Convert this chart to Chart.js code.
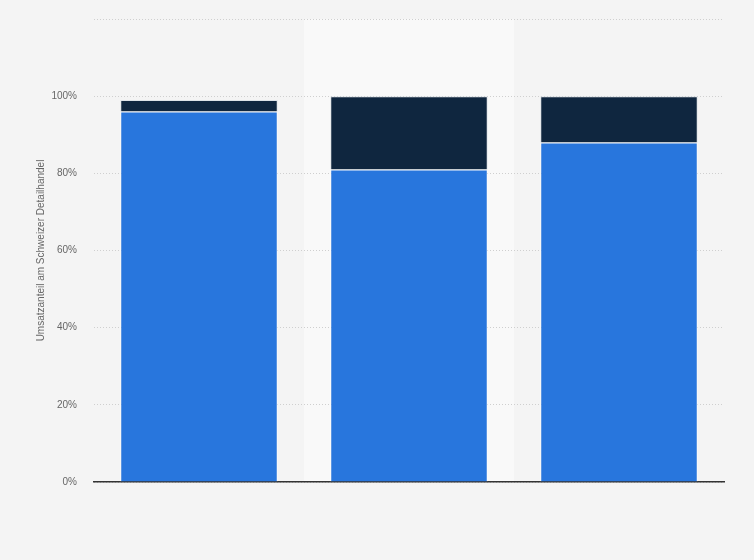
<!DOCTYPE html>
<html>
<head>
<meta charset="utf-8">
<script src="https://cdn.jsdelivr.net/npm/chart.js@4/dist/chart.umd.min.js"></script>
<style>
  html, body { margin: 0; padding: 0; background: #f4f4f4; }
  #wrap { width: 754px; height: 560px; }
</style>
</head>
<body>
<div id="wrap"><canvas id="umsatz"></canvas></div>
<script>
// Kategorien (keine Beschriftung sichtbar)
var kategorien = ['1', '2', '3'];
// Anteile in %
var serieUnten = [96, 81, 88];
var serieOben = [3, 19, 12];
var yTicks = [0, 20, 40, 60, 80, 100, 120];

// hellere Spalte hinter der mittleren Kategorie
var spalteHinterlegen = {
  id: 'spalteHinterlegen',
  beforeDraw: function(chart) {
    var x = chart.scales.x;
    var a = chart.chartArea;
    var breite = (a.right - a.left) / kategorien.length;
    var mitte = x.getPixelForValue(1);
    var ctx = chart.ctx;
    ctx.save();
    ctx.fillStyle = '#f9f9f9';
    ctx.fillRect(mitte - breite / 2, a.top, breite, a.bottom - a.top);
    ctx.restore();
  }
};

let ctx = document.getElementById('umsatz');
let chart = new Chart(ctx, {
  type: 'bar',
  data: {
    labels: kategorien,
    datasets: [{
      label: 'Serie 1',
      data: serieUnten,
      backgroundColor: '#2876dd',
      borderColor: 'rgba(255,255,255,0.6)',
      borderWidth: 1,
      barPercentage: 0.75,
      categoryPercentage: 1
    }, {
      label: 'Serie 2',
      data: serieOben,
      backgroundColor: '#0f263f',
      borderColor: 'rgba(200,210,220,0.5)',
      borderWidth: 1,
      barPercentage: 0.75,
      categoryPercentage: 1
    }]
  },
  options: {
    responsive: true,
    maintainAspectRatio: false,
    animation: false,
    layout: { padding: { top: 19, right: 30, bottom: 70, left: 0 } },
    plugins: {
      legend: { display: false },
      tooltip: { enabled: false }
    },
    scales: {
      x: {
        stacked: true,
        ticks: { display: false },
        grid: { display: false },
        border: { display: true, color: '#333333', width: 1.5 }
      },
      y: {
        stacked: true,
        min: 0,
        max: 120,
        afterBuildTicks: function(axis) {
          axis.ticks = yTicks.map(function(v) { return { value: v }; });
        },
        afterFit: function(axis) { axis.width = 94; axis.paddingTop = 0; },
        ticks: {
          padding: 17,
          color: '#666666',
          font: { family: 'Liberation Sans, Arial, sans-serif', size: 10 },
          callback: function(v) { return v === 120 ? '' : v + '%'; }
        },
        grid: { color: '#cfcfcf', lineWidth: 1, drawTicks: false },
        border: { display: false, dash: [1, 2] },
        title: {
          display: true,
          text: 'Umsatzanteil am Schweizer Detailhandel',
          color: '#666666',
          font: { family: 'Liberation Sans, Arial, sans-serif', size: 10 },
          padding: { top: 35, bottom: 0 }
        }
      }
    }
  },
  plugins: [spalteHinterlegen]
});
</script>
</body>
</html>
